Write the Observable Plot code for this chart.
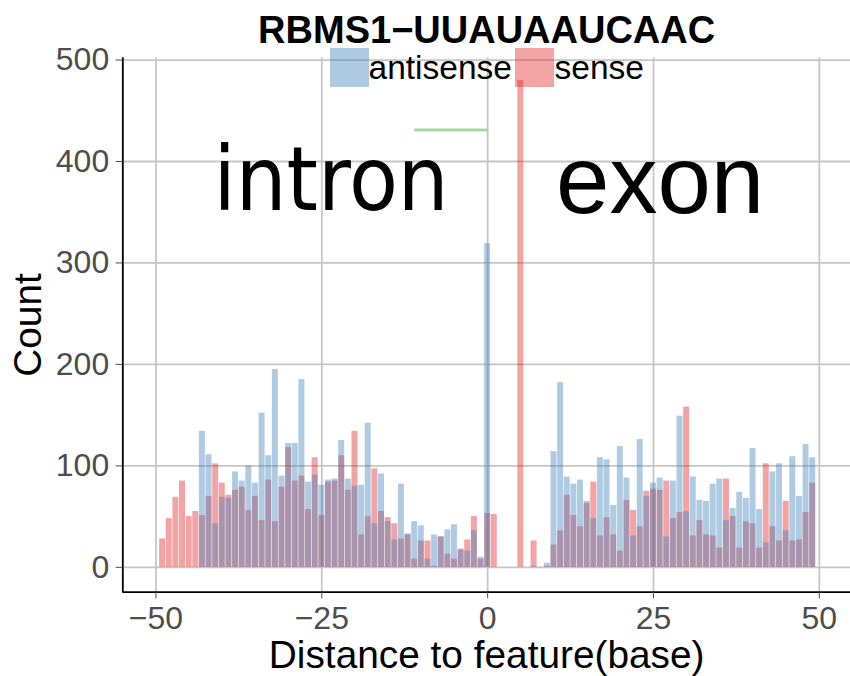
<!DOCTYPE html>
<html><head><meta charset="utf-8">
<script src="https://cdn.jsdelivr.net/npm/d3@7"></script>
<script src="https://cdn.jsdelivr.net/npm/@observablehq/plot@0.6"></script>
<style>
body{margin:0;background:#fff;}
#wrap{position:relative;width:850px;height:676px;font-family:"Liberation Sans",Arial,Helvetica,sans-serif;}
#wrap svg{position:absolute;left:0;top:0;}
.key{position:absolute;top:48px;width:39px;height:39px;}
.lab{position:absolute;top:48px;height:39px;line-height:39px;font-size:33.5px;color:#000;white-space:nowrap;}
</style></head><body><div id="wrap"></div>
<script>
// positions (distance to feature, base)
const positions = [-49,-48,-47,-46,-45,-44,-43,-42,-41,-40,-39,-38,-37,-36,-35,-34,-33,-32,-31,-30,
  -29,-28,-27,-26,-25,-24,-23,-22,-21,-20,-19,-18,-17,-16,-15,-14,-13,-12,-11,-10,
  -9,-8,-7,-6,-5,-4,-3,-2,-1,0,1,2,3,4,5,6,7,8,9,10,
  11,12,13,14,15,16,17,18,19,20,21,22,23,24,25,26,27,28,29,30,
  31,32,33,34,35,36,37,38,39,40,41,42,43,44,45,46,47,48,49];
const antisense = [0,0,0,0,0,0,134,111,43,69,68,94,85,100,83,152,110,195,90,122,
  122,185,84,91,81,86,87,125,87,80,81,142,43,92,45,27,82,33,45,41,
  8,32,30,37,42,17,16,36,10,319,0,0,0,0,0,0,1,0,4,114,
  182,89,82,86,65,48,108,106,61,119,88,31,126,70,83,88,30,85,149,55,
  89,66,65,82,87,46,58,74,68,117,57,24,94,102,36,109,70,121,108];
const sense = [28,48,69,85,50,55,51,70,102,83,71,76,79,56,70,46,86,45,79,118,
  85,90,57,108,51,84,85,110,76,134,32,50,97,55,49,43,28,32,8,26,
  26,1,30,13,8,18,27,50,8,53,52,0,0,0,480,0,26,0,1,22,
  36,71,51,40,63,84,31,49,32,16,66,56,40,75,77,76,85,48,54,158,
  31,46,32,31,19,87,50,19,45,43,19,102,40,26,65,26,27,54,83];
const series = ["antisense", "sense"];
const seriesColors = ["#377EB8", "#E41A1C"];
const xTicks = [-50, -25, 0, 25, 50];
const yTicks = [0, 100, 200, 300, 400, 500];
const xDomain = [-55, 54.7];
const yDomain = [-24.5, 502.2];
const titleText = "RBMS1\u2212UUAUAAUCAAC";
const xLabel = "Distance to feature(base)";
const yLabel = "Count";
const regionLabels = [{label: "intron", x: -23.6, y: 380}, {label: "exon", x: 26, y: 380}];
const motif = [{x1: -11, x2: 0, y: 431}];

const rowsFor = (vals) => positions.map((x, i) => ({x, count: vals[i]}));
const antiRows = rowsFor(antisense);
const senseRows = rowsFor(sense);
const barHalf = 0.45;

const chart = Plot.plot({
  width: 850, height: 676,
  marginLeft: 122.3, marginRight: 0, marginTop: 57.3, marginBottom: 84.3,
  x: {domain: xDomain},
  y: {domain: yDomain},
  style: {fontFamily: "'Liberation Sans', Arial, Helvetica, sans-serif", background: "white", overflow: "visible"},
  marks: [
    Plot.ruleX(xTicks, {stroke: "#c6c6c6", strokeWidth: 1.8}),
    Plot.ruleY(yTicks, {stroke: "#c6c6c6", strokeWidth: 1.8}),
    Plot.rect(senseRows, {x1: d => d.x - barHalf, x2: d => d.x + barHalf, y1: d => 0, y2: "count", fill: seriesColors[1], fillOpacity: 0.4}),
    Plot.rect(antiRows, {x1: d => d.x - barHalf, x2: d => d.x + barHalf, y1: d => 0, y2: "count", fill: seriesColors[0], fillOpacity: 0.4}),
    Plot.ruleY(motif, {y: "y", x1: "x1", x2: "x2", stroke: "#4DAF4A", strokeOpacity: 0.5, strokeWidth: 3}),
    Plot.text(regionLabels.filter(d => d.label === "intron"), {x: "x", y: "y", text: "label", fontSize: 89, lineAnchor: "middle", fill: "black", fontFamily: "'DejaVu Sans Condensed', 'DejaVu Sans', sans-serif", fontStretch: "condensed"}),
    Plot.text(regionLabels.filter(d => d.label === "exon"), {x: "x", y: "y", text: "label", fontSize: 96, lineAnchor: "middle", fill: "black"}),
    Plot.ruleX([xDomain[0]], {stroke: "black", strokeWidth: 1.8}),
    Plot.ruleY([yDomain[0]], {stroke: "black", strokeWidth: 1.8}),
    Plot.axisX({ticks: xTicks, tickSize: 6.6, tickPadding: 7, fontSize: 32, color: "#4d4d4d", label: null}),
    Plot.axisY({ticks: yTicks, tickSize: 6.6, tickPadding: 7, fontSize: 32, color: "#4d4d4d", label: null}),
    Plot.text([xLabel], {text: d => d, frameAnchor: "bottom", dy: 63, fontSize: 38.8, lineAnchor: "middle", fill: "black"}),
    Plot.text([yLabel], {text: d => d, frameAnchor: "left", textAnchor: "middle", dx: -93.8, rotate: -90, fontSize: 38.8, lineAnchor: "middle", fill: "black"}),
    Plot.text([titleText], {text: d => d, frameAnchor: "top", dy: -27, fontSize: 38, fontWeight: "bold", lineAnchor: "middle", fill: "black"})
  ]
});
const wrap = document.getElementById("wrap");
wrap.appendChild(chart);

// legend (top, inside panel area)
const legendPos = [{key: 330, lab: 368.5}, {key: 515, lab: 554.5}];
series.forEach((s, i) => {
  const k = document.createElement("div");
  k.className = "key";
  k.style.left = legendPos[i].key + "px";
  const c = d3.color(seriesColors[i]); c.opacity = 0.4;
  k.style.background = c.formatRgb();
  wrap.appendChild(k);
  const t = document.createElement("div");
  t.className = "lab";
  t.style.left = legendPos[i].lab + "px";
  t.textContent = s;
  wrap.appendChild(t);
});
</script></body></html>
